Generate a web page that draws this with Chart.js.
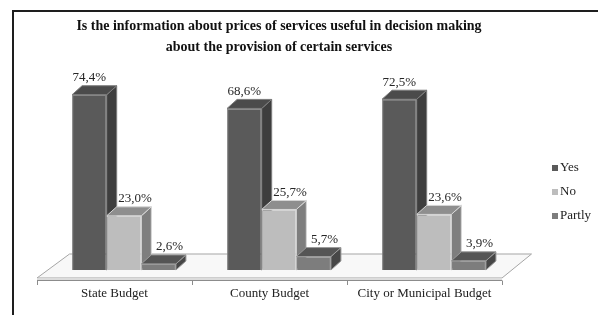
<!DOCTYPE html>
<html>
<head>
<meta charset="utf-8">
<script src="https://cdn.jsdelivr.net/npm/chart.js@4"></script>
<style>
  html, body { margin: 0; padding: 0; background: #fff; }
  #wrap { position: relative; width: 598px; height: 315px; overflow: hidden; }
  #frame { position: absolute; left: 12px; top: 10px; width: 620px; height: 330px;
           border-left: 2px solid #1e1e1e; border-top: 2px solid #1e1e1e; }
  canvas { position: absolute; left: 0; top: 0; }
</style>
</head>
<body>
<div id="wrap"><div id="frame"></div><canvas id="chart" width="598" height="315"></canvas></div>
<script>
var categories = ['State Budget', 'County Budget', 'City or Municipal Budget'];
var seriesNames = ['Yes', 'No', 'Partly'];
var yesValues = [74.4, 68.6, 72.5];
var noValues = [23.0, 25.7, 23.6];
var partlyValues = [2.6, 5.7, 3.9];
var titleLines = ['Is the information about prices of services useful in decision making',
                  'about the provision of certain services'];

var serif = "'Liberation Serif', 'Times New Roman', serif";
var depthX = 10, depthY = 9; // how far the bar tops/sides go back

function pct(v) {
    return v.toFixed(1).replace('.', ',') + '%';
}

// floor, bar sides/tops, value labels and the legend
var bars3d = {
    id: 'bars3d',
    beforeDatasetsDraw: function(chart) {
        var ctx = chart.ctx;
        var area = chart.chartArea;
        var fl = area.left - 9.5, fr = area.right - 9.5, fy = area.bottom + 8;
        var bl = area.left + 23, br = area.right + 20, by = area.bottom - 16;

        ctx.save();
        ctx.beginPath();
        ctx.moveTo(fl, fy);
        ctx.lineTo(bl, by);
        ctx.lineTo(br, by);
        ctx.lineTo(fr, fy);
        ctx.closePath();
        ctx.fillStyle = '#f8f8f8';
        ctx.fill();
        ctx.strokeStyle = '#a5a5a5';
        ctx.lineWidth = 1;
        ctx.stroke();

        ctx.fillStyle = '#dcdcdc';
        ctx.fillRect(fl, fy, fr - fl, 2.5);
        ctx.beginPath();
        ctx.moveTo(fl, fy + 2.5);
        ctx.lineTo(fr, fy + 2.5);
        var step = (area.right - area.left) / categories.length;
        for (var i = 0; i <= categories.length; i++) {
            var tx = Math.round(fl + i * step) + 0.5;
            ctx.moveTo(tx, fy + 2.5);
            ctx.lineTo(tx, fy + 7);
        }
        ctx.strokeStyle = '#8c8c8c';
        ctx.stroke();

        chart.data.datasets.forEach(function(ds, di) {
            chart.getDatasetMeta(di).data.forEach(function(bar) {
                var l = bar.x - bar.width / 2, r = bar.x + bar.width / 2;
                var t = bar.y, b = bar.base;
                ctx.beginPath();
                ctx.moveTo(r, t);
                ctx.lineTo(r + depthX, t - depthY);
                ctx.lineTo(r + depthX, b - depthY);
                ctx.lineTo(r, b);
                ctx.closePath();
                ctx.fillStyle = ds.sideColor;
                ctx.fill();
                ctx.strokeStyle = ds.borderColor;
                ctx.stroke();

                ctx.beginPath();
                ctx.moveTo(l, t);
                ctx.lineTo(l + depthX, t - depthY);
                ctx.lineTo(r + depthX, t - depthY);
                ctx.lineTo(r, t);
                ctx.closePath();
                ctx.fillStyle = ds.topColor;
                ctx.fill();
                ctx.stroke();
            });
        });
        ctx.restore();
    },
    afterDatasetsDraw: function(chart) {
        var ctx = chart.ctx;
        ctx.save();
        ctx.font = '13px ' + serif;
        ctx.fillStyle = '#262626';
        ctx.textAlign = 'center';
        ctx.textBaseline = 'middle';
        chart.data.datasets.forEach(function(ds, di) {
            chart.getDatasetMeta(di).data.forEach(function(bar, i) {
                ctx.fillText(pct(ds.data[i]), bar.x + ds.labelShift, bar.y - 17);
            });
        });
        ctx.restore();
    },
    afterDraw: function(chart) {
        var ctx = chart.ctx;
        ctx.save();
        ctx.font = '13px ' + serif;
        ctx.textBaseline = 'middle';
        chart.data.datasets.forEach(function(ds, di) {
            var y = 168 + di * 24;
            ctx.fillStyle = ds.backgroundColor;
            ctx.fillRect(552, y - 3, 6, 6);
            ctx.fillStyle = '#222';
            ctx.fillText(ds.label, 560, y);
        });
        ctx.restore();
    }
};

new Chart(document.getElementById('chart'), {
    type: 'bar',
    data: {
        labels: categories,
        datasets: [{
            label: seriesNames[0],
            data: yesValues,
            backgroundColor: '#5a5a5a',
            borderColor: '#7c7c7c',
            topColor: '#4b4b4b',
            sideColor: '#3e3e3e',
            labelShift: 0,
            borderWidth: 1
        }, {
            label: seriesNames[1],
            data: noValues,
            backgroundColor: '#bdbdbd',
            borderColor: '#d6d6d6',
            topColor: '#8e8e8e',
            sideColor: '#7e7e7e',
            labelShift: 11,
            borderWidth: 1
        }, {
            label: seriesNames[2],
            data: partlyValues,
            backgroundColor: '#7d7d7d',
            borderColor: '#9a9a9a',
            topColor: '#555555',
            sideColor: '#474747',
            labelShift: 11,
            borderWidth: 1
        }]
    },
    options: {
        responsive: false,
        animation: false,
        devicePixelRatio: 1,
        categoryPercentage: 0.67,
        barPercentage: 1,
        layout: {
            padding: { top: 10, left: 46.5, right: 86.5, bottom: 0 }
        },
        plugins: {
            title: {
                display: true,
                text: titleLines,
                color: '#111',
                font: { family: serif, size: 14, weight: 'bold', lineHeight: 1.5 },
                padding: { top: 6, bottom: 0 }
            },
            legend: { display: false },
            tooltip: { enabled: false }
        },
        scales: {
            x: {
                grid: { display: false, drawTicks: false },
                border: { display: false },
                ticks: {
                    color: '#222',
                    font: { family: serif, size: 13 },
                    labelOffset: -9.5,
                    padding: 16
                },
                afterFit: function(scale) {
                    scale.height = 45;
                }
            },
            y: {
                display: false,
                min: 0,
                max: 90
            }
        }
    },
    plugins: [bars3d]
});
</script>
</body>
</html>
